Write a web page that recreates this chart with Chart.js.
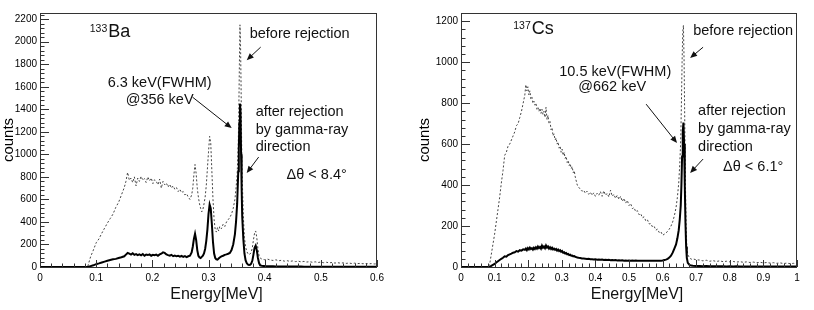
<!DOCTYPE html>
<html>
<head>
<meta charset="utf-8">
<script src="https://cdn.jsdelivr.net/npm/chart.js@4.4.1/dist/chart.umd.min.js"></script>
<style>
  body { margin: 0; background: #fff; width: 814px; height: 310px; overflow: hidden; position: relative; }
  canvas { position: absolute; top: 0; }
  #baChart { left: 0; }
  #csChart { left: 407px; }
</style>
</head>
<body>
<canvas id="baChart" width="407" height="310"></canvas>
<canvas id="csChart" width="407" height="310"></canvas>
<script>
// 133Ba spectrum (energy in MeV, counts)
const baEnergy = [
  0, 0.08, 0.085, 0.09, 0.095, 0.1, 0.105, 0.11, 0.115, 0.12,
  0.125, 0.13, 0.135, 0.14, 0.145, 0.15, 0.153, 0.156, 0.159, 0.162,
  0.165, 0.168, 0.171, 0.174, 0.177, 0.18, 0.183, 0.186, 0.189, 0.192,
  0.195, 0.198, 0.201, 0.204, 0.207, 0.21, 0.213, 0.216, 0.219, 0.222,
  0.225, 0.228, 0.231, 0.234, 0.237, 0.24, 0.243, 0.246, 0.249, 0.252,
  0.255, 0.258, 0.261, 0.264, 0.267, 0.27, 0.272, 0.274, 0.276, 0.278,
  0.28, 0.282, 0.284, 0.286, 0.288, 0.29, 0.292, 0.294, 0.296, 0.298,
  0.3, 0.302, 0.304, 0.306, 0.308, 0.31, 0.312, 0.314, 0.316, 0.318,
  0.32, 0.323, 0.326, 0.329, 0.332, 0.335, 0.338, 0.341, 0.344, 0.347,
  0.349, 0.351, 0.353, 0.354, 0.355, 0.356, 0.357, 0.358, 0.359, 0.36,
  0.362, 0.364, 0.366, 0.368, 0.37, 0.372, 0.374, 0.376, 0.378, 0.38,
  0.382, 0.384, 0.386, 0.388, 0.39, 0.392, 0.395, 0.4, 0.405, 0.41,
  0.415, 0.42, 0.425, 0.43, 0.435, 0.44, 0.445, 0.45, 0.455, 0.46,
  0.465, 0.47, 0.475, 0.48, 0.485, 0.49, 0.495, 0.5, 0.505, 0.51,
  0.515, 0.52, 0.525, 0.53, 0.535, 0.54, 0.545, 0.55, 0.555, 0.56,
  0.565, 0.57, 0.575, 0.58, 0.585, 0.59, 0.595, 0.6
];
const baBefore = [
  0, 0, 5, 90, 150, 215, 250, 300, 345, 390,
  430, 470, 530, 575, 640, 705, 760, 840, 770, 790,
  750, 800, 720, 790, 760, 805, 770, 785, 750, 800,
  765, 790, 740, 775, 760, 730, 780, 700, 760, 730,
  745, 710, 735, 700, 720, 690, 705, 670, 690, 660,
  670, 640, 650, 620, 600, 640, 700, 820, 910, 830,
  700, 620, 560, 520, 490, 510, 560, 620, 720, 870,
  1020, 1160, 1100, 850, 600, 420, 330, 310, 350, 320,
  360, 340, 380, 360, 400, 420, 440, 470, 520, 600,
  700, 820, 1100, 1400, 1800, 2150, 2000, 1600, 1100, 800,
  450, 260, 180, 140, 120, 110, 115, 130, 170, 240,
  300, 320, 260, 160, 100, 80, 70, 65, 70, 62,
  58, 64, 55, 60, 52, 56, 50, 54, 48, 52,
  45, 50, 44, 47, 42, 46, 40, 44, 38, 42,
  37, 40, 35, 38, 34, 37, 32, 35, 31, 34,
  30, 32, 29, 31, 28, 30, 27, 28
];
const baAfter = [
  0, 0, 0, 8, 15, 25, 32, 40, 48, 55,
  62, 68, 72, 80, 86, 95, 110, 125, 118, 110,
  122, 108, 115, 105, 112, 104, 115, 100, 110, 106,
  112, 100, 108, 104, 110, 100, 112, 118, 130, 125,
  112, 105, 100, 108, 96, 102, 95, 100, 92, 98,
  90, 96, 88, 95, 100, 130, 180, 250, 295, 240,
  150, 100, 85, 80, 90, 100, 120, 160, 230, 330,
  470, 555, 520, 380, 220, 120, 80, 68, 65, 75,
  85, 95, 100, 108, 112, 118, 125, 150, 200, 290,
  400, 560, 850, 1050, 1280, 1450, 1380, 1000, 700, 450,
  250, 120, 60, 35, 22, 18, 20, 30, 55, 110,
  170, 190, 150, 80, 35, 15, 10, 8, 7, 6,
  6, 5, 5, 5, 4, 5, 4, 4, 4, 4,
  4, 3, 3, 3, 3, 3, 3, 3, 3, 3,
  3, 2, 2, 2, 2, 2, 2, 2, 2, 2,
  2, 2, 2, 2, 2, 2, 2, 2
];

// 137Cs spectrum
const csEnergy = [
  0, 0.08, 0.085, 0.09, 0.095, 0.1, 0.105, 0.11, 0.115, 0.12,
  0.125, 0.13, 0.135, 0.14, 0.145, 0.15, 0.155, 0.16, 0.165, 0.17,
  0.175, 0.18, 0.185, 0.19, 0.193, 0.196, 0.199, 0.202, 0.205, 0.208,
  0.211, 0.214, 0.217, 0.22, 0.223, 0.226, 0.229, 0.232, 0.235, 0.238,
  0.241, 0.244, 0.247, 0.25, 0.253, 0.256, 0.259, 0.262, 0.265, 0.268,
  0.271, 0.274, 0.277, 0.28, 0.283, 0.286, 0.289, 0.292, 0.295, 0.298,
  0.301, 0.304, 0.307, 0.31, 0.313, 0.316, 0.319, 0.322, 0.325, 0.328,
  0.331, 0.334, 0.337, 0.34, 0.343, 0.346, 0.35, 0.355, 0.36, 0.365,
  0.37, 0.375, 0.38, 0.385, 0.39, 0.395, 0.4, 0.405, 0.41, 0.415,
  0.42, 0.425, 0.43, 0.435, 0.44, 0.445, 0.45, 0.455, 0.46, 0.465,
  0.47, 0.475, 0.48, 0.485, 0.49, 0.495, 0.5, 0.505, 0.51, 0.515,
  0.52, 0.525, 0.53, 0.535, 0.54, 0.545, 0.55, 0.555, 0.56, 0.565,
  0.57, 0.575, 0.58, 0.585, 0.59, 0.595, 0.6, 0.605, 0.61, 0.615,
  0.62, 0.625, 0.63, 0.635, 0.64, 0.644, 0.648, 0.651, 0.654, 0.656,
  0.658, 0.66, 0.662, 0.664, 0.666, 0.668, 0.67, 0.672, 0.675, 0.68,
  0.685, 0.69, 0.7, 0.71, 0.72, 0.73, 0.74, 0.75, 0.76, 0.77,
  0.78, 0.79, 0.8, 0.81, 0.82, 0.83, 0.84, 0.85, 0.86, 0.87,
  0.88, 0.89, 0.9, 0.91, 0.92, 0.93, 0.94, 0.95, 0.96, 0.97,
  0.98, 0.99, 1
];
const csBefore = [
  0, 0, 10, 60, 110, 160, 220, 280, 340, 410,
  470, 545, 560, 590, 600, 620, 640, 660, 690, 700,
  730, 760, 800, 840, 890, 860, 880, 840, 860, 820,
  830, 800, 810, 790, 800, 770, 780, 760, 775, 750,
  770, 745, 760, 730, 780, 720, 740, 700, 710, 670,
  680, 640, 650, 620, 630, 600, 610, 580, 590, 560,
  575, 545, 560, 530, 540, 510, 520, 495, 505, 480,
  490, 460, 470, 440, 420, 400, 390, 380, 370, 375,
  360, 370, 355, 365, 350, 362, 345, 360, 350, 368,
  345, 372, 350, 360, 342, 375, 345, 355, 335, 350,
  330, 345, 320, 335, 312, 325, 300, 310, 285, 290,
  270, 275, 255, 260, 240, 245, 225, 230, 210, 212,
  195, 198, 180, 185, 168, 172, 155, 160, 165, 175,
  185, 200, 220, 250, 290, 340, 410, 500, 620, 800,
  1000, 1150, 1180, 1000, 700, 400, 200, 100, 60, 45,
  38, 40, 35, 34, 30, 33, 28, 31, 27, 30,
  26, 28, 25, 27, 24, 26, 23, 25, 22, 24,
  21, 23, 20, 22, 19, 21, 18, 20, 17, 19,
  16, 18, 15
];
const csAfter = [
  0, 0, 0, 5, 10, 15, 22, 28, 34, 40,
  45, 52, 50, 58, 62, 65, 70, 72, 78, 75,
  82, 80, 86, 84, 90, 82, 92, 86, 95, 88,
  92, 85, 94, 88, 96, 90, 100, 92, 98, 90,
  104, 94, 100, 92, 105, 95, 100, 90, 96, 88,
  94, 86, 90, 84, 88, 80, 85, 78, 82, 74,
  78, 70, 72, 66, 68, 62, 64, 58, 60, 55,
  56, 52, 53, 50, 48, 46, 45, 44, 42, 41,
  40, 39, 40, 38, 38, 37, 38, 36, 37, 35,
  36, 34, 35, 34, 35, 33, 34, 33, 34, 32,
  33, 32, 33, 31, 32, 31, 32, 31, 32, 31,
  32, 31, 31, 31, 30, 31, 30, 31, 30, 31,
  30, 31, 30, 31, 30, 31, 32, 34, 36, 40,
  46, 55, 70, 90, 110, 140, 180, 230, 300, 400,
  540, 660, 705, 600, 400, 220, 100, 45, 20, 10,
  7, 6, 5, 5, 4, 5, 4, 4, 4, 4,
  4, 3, 4, 3, 4, 3, 3, 3, 3, 3,
  3, 3, 3, 3, 3, 3, 2, 3, 2, 3,
  2, 2, 2
];

// tick labels
const baEnergyTicks = [0, 0.1, 0.2, 0.3, 0.4, 0.5, 0.6];
const baCountTicks = [0, 200, 400, 600, 800, 1000, 1200, 1400, 1600, 1800, 2000, 2200];
const csEnergyTicks = [0, 0.1, 0.2, 0.3, 0.4, 0.5, 0.6, 0.7, 0.8, 0.9, 1];
const csCountTicks = [0, 200, 400, 600, 800, 1000, 1200];

Chart.defaults.font.family = "'Liberation Sans', Arial, sans-serif";
Chart.defaults.color = '#000';

function drawArrow(ctx, x1, y1, x2, y2) {
  const ang = Math.atan2(y2 - y1, x2 - x1), L = 7, W = 3;
  ctx.beginPath();
  ctx.moveTo(x1, y1);
  ctx.lineTo(x2 - Math.cos(ang) * L * 0.7, y2 - Math.sin(ang) * L * 0.7);
  ctx.stroke();
  ctx.beginPath();
  ctx.moveTo(x2, y2);
  ctx.lineTo(x2 - L * Math.cos(ang) + W * Math.sin(ang), y2 - L * Math.sin(ang) - W * Math.cos(ang));
  ctx.lineTo(x2 - L * Math.cos(ang) - W * Math.sin(ang), y2 - L * Math.sin(ang) + W * Math.cos(ang));
  ctx.closePath();
  ctx.fill();
}

// ROOT-like frame: inward ticks, labels, arrows
function rootFrame(cfg) {
  return {
    id: 'rootFrame',
    afterDatasetsDraw(chart) {
      const { ctx, chartArea: a, scales: { x, y } } = chart;
      ctx.save();
      ctx.strokeStyle = '#333';
      ctx.lineWidth = 1;
      ctx.strokeRect(a.left + 0.5, a.top + 0.5, a.right - a.left - 1, a.bottom - a.top);
      ctx.beginPath();
      for (let i = 0; i * cfg.xMinor <= x.max + 1e-9; i++) {
        const px = Math.round(x.getPixelForValue(i * cfg.xMinor)) + 0.5;
        const len = i % 5 === 0 ? 7 : 3.5;
        ctx.moveTo(px, a.bottom);
        ctx.lineTo(px, a.bottom - len);
      }
      for (let i = 0; i * cfg.yMinor <= y.max; i++) {
        const py = Math.round(y.getPixelForValue(i * cfg.yMinor)) + 0.5;
        const len = i % 5 === 0 ? 9 : 4.5;
        ctx.moveTo(a.left, py);
        ctx.lineTo(a.left + len, py);
      }
      ctx.stroke();
      ctx.restore();
    },
    afterDraw(chart) {
      const { ctx, chartArea: a, scales: { x, y } } = chart;
      ctx.save();
      ctx.fillStyle = '#111';
      ctx.strokeStyle = '#111';
      ctx.lineWidth = 1;

      // x axis title
      ctx.font = "16px 'Liberation Sans', Arial, sans-serif";
      ctx.textAlign = 'center';
      ctx.textBaseline = 'middle';
      ctx.fillText('Energy[MeV]', (a.left + a.right) / 2 + 8, 295);

      // isotope label
      const ix = x.getPixelForValue(cfg.iso.x), iy = y.getPixelForValue(cfg.iso.y);
      ctx.textAlign = 'left';
      ctx.textBaseline = 'alphabetic';
      ctx.font = "10.5px 'Liberation Sans', Arial, sans-serif";
      ctx.fillText(cfg.iso.mass, ix, iy - 5);
      const mw = ctx.measureText(cfg.iso.mass).width;
      ctx.font = "18px 'Liberation Sans', Arial, sans-serif";
      ctx.fillText(cfg.iso.sym, ix + mw + 1, iy);

      ctx.font = "14.5px 'Liberation Sans', Arial, sans-serif";
      ctx.textBaseline = 'middle';
      cfg.notes.forEach(n => {
        ctx.textAlign = n.align || 'left';
        ctx.fillText(n.text, x.getPixelForValue(n.x), y.getPixelForValue(n.y));
      });
      cfg.arrows.forEach(r => {
        drawArrow(ctx, x.getPixelForValue(r[0]), y.getPixelForValue(r[1]),
          x.getPixelForValue(r[2]), y.getPixelForValue(r[3]));
      });
      ctx.restore();
    }
  };
}

function makeSpectrum(id, energy, before, after, xTicks, yTicks, yMax, pad, yWidth, cfg) {
  new Chart(document.getElementById(id), {
    type: 'line',
    data: {
      datasets: [
        {
          label: 'after rejection',
          data: energy.map((e, i) => ({ x: e, y: after[i] })),
          borderColor: '#000',
          borderWidth: 2,
          pointRadius: 0,
          tension: 0
        },
        {
          label: 'before rejection',
          data: energy.map((e, i) => ({ x: e, y: before[i] })),
          borderColor: '#444',
          borderWidth: 1,
          borderDash: [2, 2],
          pointRadius: 0,
          tension: 0
        }
      ]
    },
    options: {
      responsive: false,
      animation: false,
      events: [],
      layout: { padding: pad },
      plugins: { legend: { display: false }, tooltip: { enabled: false } },
      scales: {
        x: {
          type: 'linear',
          min: 0,
          max: xTicks[xTicks.length - 1],
          grid: { display: false, drawTicks: false },
          border: { display: false },
          afterBuildTicks: s => { s.ticks = xTicks.map(v => ({ value: v })); },
          ticks: {
            padding: 5,
            font: { size: 10 },
            maxRotation: 0,
            autoSkip: false,
            callback: v => String(v)
          },
          afterFit: s => { s.height = 43; }
        },
        y: {
          min: 0,
          max: yMax,
          grid: { display: false, drawTicks: false },
          border: { display: false },
          afterBuildTicks: s => { s.ticks = yTicks.map(v => ({ value: v })); },
          ticks: { padding: 3, font: { size: 10 }, autoSkip: false, callback: v => String(v) },
          title: { display: true, text: 'counts', font: { size: 15 }, padding: { top: 0, bottom: 0 } },
          afterFit: s => { s.width = yWidth; }
        }
      }
    },
    plugins: [rootFrame(cfg)]
  });
}

makeSpectrum('baChart', baEnergy, baBefore, baAfter, baEnergyTicks, baCountTicks, 2255,
  { left: 0, right: 30, top: 13, bottom: 0 }, 40, {
    xMinor: 0.02, yMinor: 40,
    iso: { mass: '133', sym: 'Ba', x: 0.0886, y: 2045 },
    notes: [
      { text: '6.3 keV(FWHM)', x: 0.213, y: 1632, align: 'center' },
      { text: '@356 keV', x: 0.213, y: 1481, align: 'center' },
      { text: 'before rejection', x: 0.3733, y: 2067 },
      { text: 'after rejection', x: 0.384, y: 1375 },
      { text: 'by gamma-ray', x: 0.384, y: 1215 },
      { text: 'direction', x: 0.384, y: 1065 },
      { text: 'Δθ < 8.4°', x: 0.439, y: 816 }
    ],
    arrows: [[0.2716, 1508, 0.3413, 1233], [0.3929, 1952, 0.368, 1836], [0.3893, 976, 0.368, 834]]
  });

makeSpectrum('csChart', csEnergy, csBefore, csAfter, csEnergyTicks, csCountTicks, 1240,
  { left: 9, right: 17, top: 13, bottom: 0 }, 45, {
    xMinor: 0.02, yMinor: 40,
    iso: { mass: '137', sym: 'Cs', x: 0.1555, y: 1137 },
    notes: [
      { text: '10.5 keV(FWHM)', x: 0.459, y: 951, align: 'center' },
      { text: '@662 keV', x: 0.45, y: 878, align: 'center' },
      { text: 'before rejection', x: 0.691, y: 1151 },
      { text: 'after rejection', x: 0.7056, y: 761 },
      { text: 'by gamma-ray', x: 0.7056, y: 673 },
      { text: 'direction', x: 0.7056, y: 585 },
      { text: 'Δθ < 6.1°', x: 0.78, y: 488 }
    ],
    arrows: [[0.551, 795, 0.643, 605], [0.7205, 1073, 0.6819, 1020], [0.7205, 527, 0.6819, 459]]
  });
</script>
</body>
</html>
